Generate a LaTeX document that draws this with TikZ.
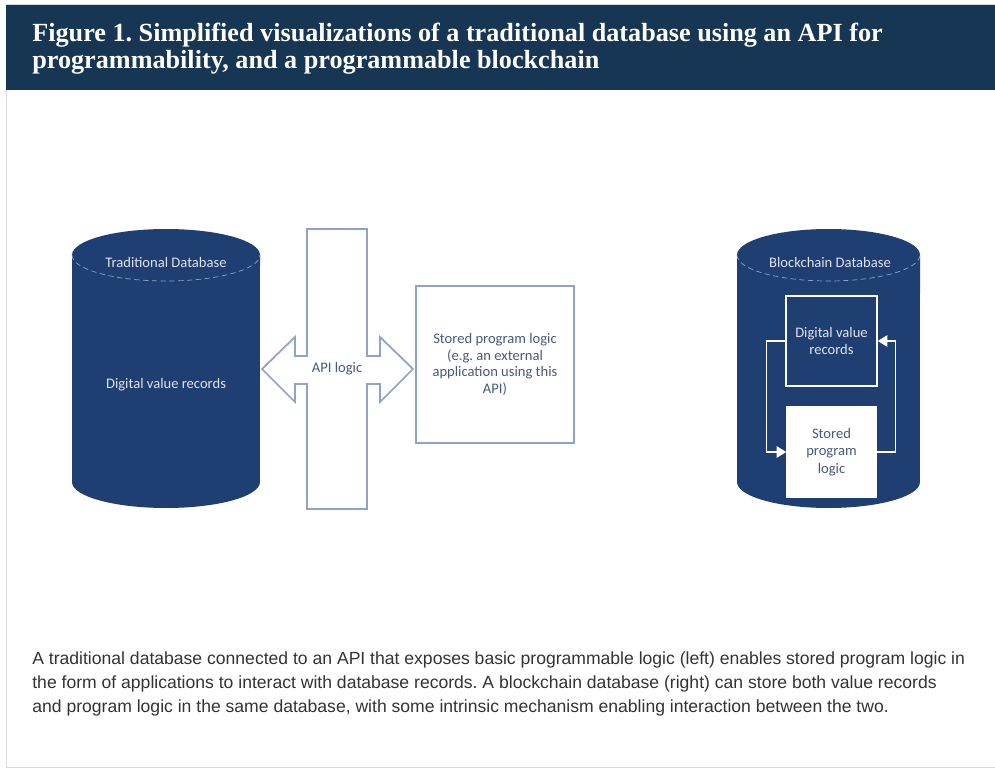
\documentclass[tikz,border=0pt]{standalone}
\usepackage{fontspec}
\setmainfont{Liberation Serif}
\setsansfont{Liberation Sans}
\newfontfamily\labelfont{Carlito}
\usepackage{tikz}
\usetikzlibrary{arrows.meta,positioning}
\frenchspacing

\definecolor{headnavy}{RGB}{23,54,84}
\definecolor{dbnavy}{RGB}{31,62,114}
\definecolor{apiedge}{RGB}{143,163,200}
\definecolor{apitext}{RGB}{72,88,128}
\definecolor{dbtext}{RGB}{222,227,236}
\definecolor{captext}{RGB}{51,51,51}
\definecolor{framegray}{RGB}{214,218,222}

\tikzset{
  dblabel/.style={text=dbtext, font=\labelfont\fontsize{8.3}{9.4}\selectfont, align=center},
  apibox/.style={rectangle, draw=apiedge, line width=1pt, fill=white, text=apitext,
    font=\labelfont\fontsize{8.3}{9.4}\selectfont, align=center},
  recbox/.style={rectangle, draw=white, line width=0.8pt, fill=dbnavy, text=dbtext,
    font=\labelfont\fontsize{8.3}{9.7}\selectfont, align=center},
  progbox/.style={rectangle, draw=white, line width=0.8pt, fill=white, text=apitext,
    font=\labelfont\fontsize{8.3}{9.9}\selectfont, align=center},
  loopline/.style={draw=white, line width=0.8pt, -{Triangle[length=5.5pt,width=6.5pt]}}
}

\begin{document}
\begin{tikzpicture}[x=0.02cm,y=0.02cm]
\useasboundingbox (0,0) rectangle (995,-771);

% frame and header
\draw[framegray, fill=white] (6,-4) rectangle (996,-767);
\fill[headnavy] (6,-5) rectangle (996,-90);
\node[anchor=base west, text=white, align=left, inner sep=0pt,
    font=\bfseries\fontsize{14.9}{14.8}\selectfont] (title) at (32,-68)
    {Figure 1. Simplified visualizations of a traditional database using an API for\\
     programmability, and a programmable blockchain};

% traditional database
\fill[dbnavy] (72,-255) -- (72,-482)
    arc[start angle=180, end angle=360, x radius=1.88cm, y radius=0.52cm]
    -- (260,-255)
    arc[start angle=0, end angle=180, x radius=1.88cm, y radius=0.52cm] -- cycle;
\draw[apiedge, dash pattern=on 3pt off 2pt, line width=0.4pt] (72,-255)
    arc[start angle=180, end angle=360, x radius=1.88cm, y radius=0.52cm];
\node[dblabel] (tradname) at (166,-262) {Traditional Database};
\node[dblabel] (tradrec) at (166,-385) {Digital value records};

% api cross
\draw[apiedge, fill=white, line width=1pt, line join=miter]
    (307,-229) -- (367,-229) -- (367,-356) -- (380,-356) -- (380,-337)
    -- (413,-369) -- (380,-402) -- (380,-384) -- (367,-384) -- (367,-509)
    -- (307,-509) -- (307,-384) -- (295,-384) -- (295,-402) -- (262,-369)
    -- (295,-337) -- (295,-356) -- (307,-356) -- cycle;
\node[text=apitext, font=\labelfont\fontsize{8.3}{9.4}\selectfont] (api) at (337,-369) {API logic};

\node[apibox, minimum width=3.16cm, minimum height=3.14cm] (extapp) at (495,-364.5)
    {Stored program logic\\(e.g. an external\\application using this\\API)};

% blockchain database
\fill[dbnavy] (737,-255) -- (737,-482)
    arc[start angle=180, end angle=360, x radius=1.83cm, y radius=0.52cm]
    -- (920,-255)
    arc[start angle=0, end angle=180, x radius=1.83cm, y radius=0.52cm] -- cycle;
\draw[apiedge, dash pattern=on 3pt off 2pt, line width=0.4pt] (737,-255)
    arc[start angle=180, end angle=360, x radius=1.83cm, y radius=0.52cm];
\node[dblabel] (chainname) at (830,-262) {Blockchain Database};

\node[recbox, minimum width=1.82cm, minimum height=1.8cm] (dvr) at (831.5,-341)
    {Digital value\\records};
\node[progbox, minimum width=1.78cm, minimum height=1.8cm] (spl) at (831.5,-452)
    {Stored\\program\\logic};

\draw[loopline] (dvr.west) -- ++(-19,0) |- (spl.west);
\draw[loopline] (spl.east) -- ++(19,0) |- (dvr.east);

% caption
\node[anchor=base west, text=captext, align=left, inner sep=0pt,
    font=\sffamily\fontsize{10}{13.6}\selectfont] (caption) at (32,-712)
    {A traditional database connected to an API that exposes basic programmable logic (left) enables stored program logic in\\
     the form of applications to interact with database records. A blockchain database (right) can store both value records\\
     and program logic in the same database, with some intrinsic mechanism enabling interaction between the two.};
\end{tikzpicture}
\end{document}
